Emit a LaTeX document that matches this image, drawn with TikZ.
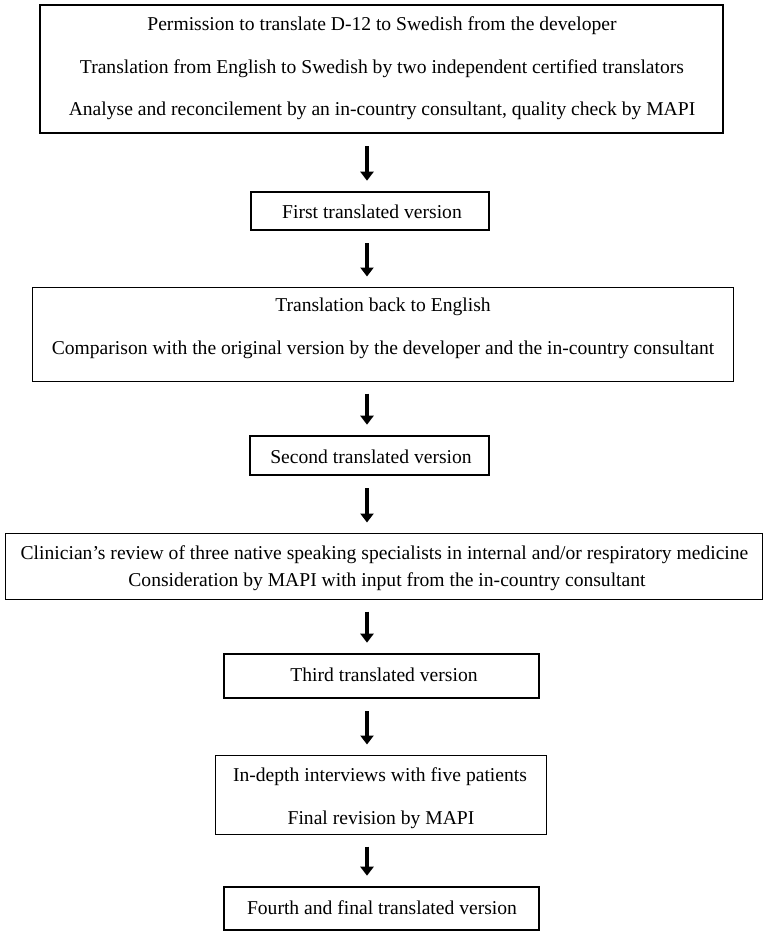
\documentclass[tikz,border=0pt]{standalone}
\usepackage{fontspec}
\setmainfont{Liberation Serif}
\usetikzlibrary{arrows.meta}
\begin{document}
\begin{tikzpicture}[x=1pt,y=-1pt,
  thickbox/.style={draw, line width=2.6pt, inner sep=0pt},
  thinbox/.style={draw, line width=1pt, inner sep=0pt},
  txt/.style={anchor=base, font=\fontsize{19.6}{20}\selectfont, inner sep=0pt},
  flow/.style={line width=4pt, -{Triangle[width=13pt,length=9pt]}, shorten <=12pt, shorten >=10pt}]
\useasboundingbox[fill=white] (0,0) rectangle (767,936);
\coordinate (ax) at (367,0);

% boxes
\node[thickbox, minimum width=683pt, minimum height=128pt] (b1) at (381.5,69) {};
\node[thickbox, minimum width=238pt, minimum height=38pt] (b2) at (370,211) {};
\node[thinbox, minimum width=701pt, minimum height=94pt] (b3) at (382.5,334) {};
\node[thickbox, minimum width=239pt, minimum height=39pt] (b4) at (369.5,455.5) {};
\node[thinbox, minimum width=757pt, minimum height=66pt] (b5) at (383.5,566) {};
\node[thickbox, minimum width=315pt, minimum height=44pt] (b6) at (381.5,676) {};
\node[thinbox, minimum width=331pt, minimum height=79pt] (b7) at (380.5,794.5) {};
\node[thickbox, minimum width=315pt, minimum height=43pt] (b8) at (381.5,908.5) {};

% texts
\node[txt] (t1a) at (382,31) {Permission to translate D-12 to Swedish from the developer};
\node[txt] (t1b) at (382,74) {Translation from English to Swedish by two independent certified translators};
\node[txt] (t1c) at (382,116) {Analyse and reconcilement by an in-country consultant, quality check by MAPI};
\node[txt] (t2) at (372,218) {First translated version};
\node[txt] (t3a) at (383,311) {Translation back to English};
\node[txt] (t3b) at (383,354) {Comparison with the original version by the developer and the in-country consultant};
\node[txt] (t4) at (371,463) {Second translated version};
\node[txt] (t5a) at (384.5,559) {Clinician’s review of three native speaking specialists in internal and/or respiratory medicine};
\node[txt] (t5b) at (387,586) {Consideration by MAPI with input from the in-country consultant};
\node[txt] (t6) at (384,681) {Third translated version};
\node[txt] (t7a) at (380,781) {In-depth interviews with five patients};
\node[txt] (t7b) at (381,824) {Final revision by MAPI};
\node[txt] (t8) at (382,914) {Fourth and final translated version};

% arrows
\draw[flow] (b1.south -| ax) -- (b2.north -| ax);
\draw[flow] (b2.south -| ax) -- (b3.north -| ax);
\draw[flow] (b3.south -| ax) -- (b4.north -| ax);
\draw[flow] (b4.south -| ax) -- (b5.north -| ax);
\draw[flow] (b5.south -| ax) -- (b6.north -| ax);
\draw[flow] (b6.south -| ax) -- (b7.north -| ax);
\draw[flow] (b7.south -| ax) -- (b8.north -| ax);
\end{tikzpicture}
\end{document}
